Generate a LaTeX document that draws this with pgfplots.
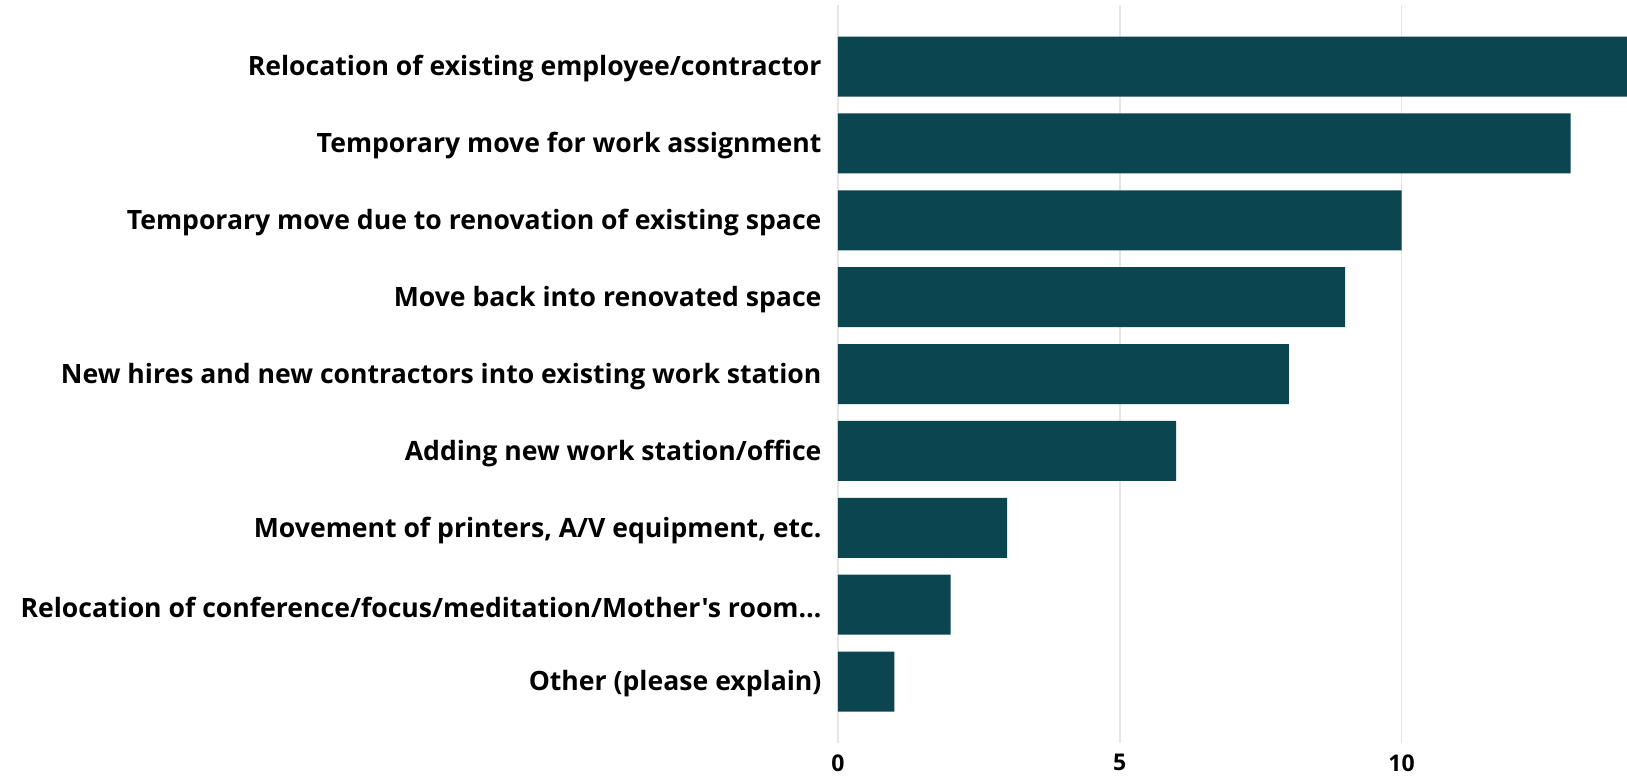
\documentclass[border=0pt]{standalone}
\usepackage{fontspec}
\setmainfont{Open Sans}[Ligatures=TeXOff]
\usepackage{pgfplots}
\pgfplotsset{compat=1.18}
\definecolor{barc}{HTML}{0B4550}
\definecolor{gridc}{HTML}{E6E6E6}
\begin{document}
\begin{tikzpicture}
\begin{axis}[
  name=ax,
  scale only axis,
  width=789pt, height=738pt,
  xbar, bar width=60pt,
  xmin=0, xmax=14,
  ymin=-0.8, ymax=8.8,
  y dir=reverse,
  ytick={0,1,2,3,4,5,6,7,8},
  yticklabels={
    Relocation of existing employee/contractor,
    Temporary move for work assignment,
    Temporary move due to renovation of existing space,
    Move back into renovated space,
    New hires and new contractors into existing work station,
    Adding new work station/office,
    {Movement of printers, A/V equipment, etc.},
    {Relocation of conference/focus/meditation/Mother's room…},
    Other (please explain)},
  xtick={0,5,10},
  axis line style={draw=none},
  major tick length=0pt,
  xmajorgrids,
  grid style={gridc, line width=1.5pt},
  /pgf/number format/assume math mode=true,
  yticklabel style={font=\fontsize{26.6}{30}\selectfont\bfseries, align=right, yshift=-2.5pt},
  xticklabel style={font=\fontsize{23}{27}\selectfont\bfseries},
  yticklabel shift=13pt,
  xticklabel shift=8pt,
]
\addplot[fill=barc, draw=none] coordinates {
  (14,0) (13,1) (10,2) (9,3) (8,4) (6,5) (3,6) (2,7) (1,8)};
\end{axis}
\pgfresetboundingbox
\path (ax.south west) ++(-838pt,-35pt) rectangle ++(1627pt,778pt);
\end{tikzpicture}
\end{document}
